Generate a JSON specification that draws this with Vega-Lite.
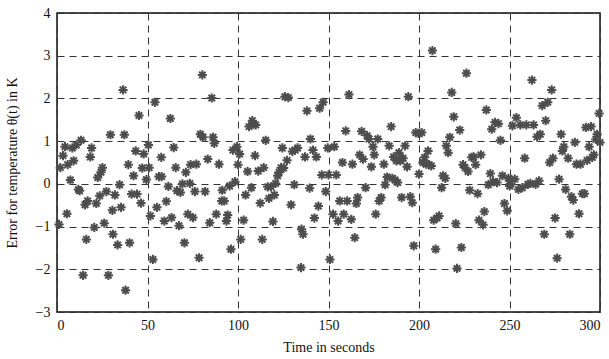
{
  "$schema": "https://vega.github.io/schema/vega-lite/v6.json",
  "width": 543,
  "height": 299,
  "autosize": "none",
  "padding": {"left": 57, "top": 13, "right": 9, "bottom": 47},
  "background": "white",
  "config": {
    "font": "Liberation Serif",
    "view": {"stroke": "#111", "strokeWidth": 1.5},
    "axis": {
      "labelFont": "Liberation Serif",
      "titleFont": "Liberation Serif",
      "labelFontSize": 14,
      "titleFontSize": 14,
      "titleFontWeight": "normal",
      "labelColor": "#111",
      "titleColor": "#111",
      "domain": false,
      "ticks": false,
      "grid": true,
      "gridColor": "#333",
      "gridDash": [7, 5],
      "gridWidth": 1,
      "gridOpacity": 1
    }
  },
  "data": {
    "values": [
      {"x": 1.1, "y": -0.95}, {"x": 1.8, "y": 0.38}, {"x": 3.3, "y": 0.66}, {"x": 4.4, "y": 0.87}, {"x": 5.5, "y": -0.7},
      {"x": 5.9, "y": 0.45}, {"x": 7.4, "y": 0.09}, {"x": 8.5, "y": 0.84}, {"x": 9.2, "y": 0.54}, {"x": 10.7, "y": 0.91},
      {"x": 11.8, "y": -0.13}, {"x": 12.5, "y": -0.16}, {"x": 13.3, "y": 1.02}, {"x": 14.4, "y": -2.14}, {"x": 15.5, "y": -0.49},
      {"x": 16.2, "y": -1.3}, {"x": 16.9, "y": -0.4}, {"x": 18.4, "y": 0.63}, {"x": 19.1, "y": 0.84}, {"x": 20.6, "y": -1.02},
      {"x": 21.7, "y": -0.46}, {"x": 22.5, "y": 0.15}, {"x": 23.6, "y": -0.28}, {"x": 24.3, "y": 0.27}, {"x": 25.1, "y": 0.38},
      {"x": 26.1, "y": -0.92}, {"x": 27.3, "y": -0.18}, {"x": 28.4, "y": -2.14}, {"x": 29.5, "y": 1.15}, {"x": 30.6, "y": -0.62},
      {"x": 30.9, "y": -1.18}, {"x": 32.0, "y": -0.26}, {"x": 33.5, "y": -1.43}, {"x": 34.6, "y": -0.02}, {"x": 35.4, "y": -0.55},
      {"x": 36.5, "y": 2.2}, {"x": 37.2, "y": 1.15}, {"x": 37.9, "y": -2.49}, {"x": 39.4, "y": 0.45}, {"x": 40.1, "y": -1.38},
      {"x": 41.2, "y": -0.24}, {"x": 42.3, "y": 0.19}, {"x": 43.5, "y": 0.77}, {"x": 44.2, "y": -0.24}, {"x": 45.3, "y": 1.6},
      {"x": 46.4, "y": -0.45}, {"x": 47.1, "y": 0.37}, {"x": 47.9, "y": 0.7}, {"x": 49.4, "y": 0.1}, {"x": 50.5, "y": 0.91},
      {"x": 50.9, "y": 0.38}, {"x": 51.6, "y": -0.75}, {"x": 53.0, "y": -1.77}, {"x": 54.1, "y": 1.91}, {"x": 55.2, "y": -0.55},
      {"x": 56.3, "y": 0.17}, {"x": 57.8, "y": 0.17}, {"x": 57.6, "y": 0.62}, {"x": 59.3, "y": -0.87}, {"x": 60.4, "y": -0.41},
      {"x": 61.5, "y": -0.06}, {"x": 62.6, "y": 1.53}, {"x": 63.3, "y": -0.79}, {"x": 64.5, "y": 0.85}, {"x": 65.6, "y": 0.38},
      {"x": 66.3, "y": -0.16}, {"x": 67.4, "y": -0.98}, {"x": 68.2, "y": -0.2}, {"x": 69.3, "y": 0.0}, {"x": 70.4, "y": -1.38},
      {"x": 71.2, "y": 0.27}, {"x": 72.3, "y": -0.71}, {"x": 73.4, "y": 0.01}, {"x": 73.8, "y": 0.45}, {"x": 75.1, "y": -0.79},
      {"x": 76.2, "y": -0.18}, {"x": 77.0, "y": 0.46}, {"x": 78.5, "y": -1.73}, {"x": 79.2, "y": 1.16}, {"x": 80.3, "y": 2.55},
      {"x": 80.7, "y": 1.09}, {"x": 81.8, "y": -0.18}, {"x": 83.3, "y": 0.58}, {"x": 84.4, "y": -0.91}, {"x": 85.5, "y": 2.01},
      {"x": 86.2, "y": 1.09}, {"x": 86.9, "y": 0.95}, {"x": 88.0, "y": -0.71}, {"x": 89.5, "y": 0.46}, {"x": 91.0, "y": -0.4},
      {"x": 91.3, "y": -0.15}, {"x": 92.4, "y": -0.4}, {"x": 93.6, "y": -0.87}, {"x": 94.3, "y": -0.73}, {"x": 95.4, "y": -0.05},
      {"x": 96.1, "y": -1.53}, {"x": 97.2, "y": 0.79}, {"x": 98.3, "y": 0.05}, {"x": 99.4, "y": 0.87}, {"x": 100.0, "y": 0.45},
      {"x": 100.9, "y": 0.7}, {"x": 101.5, "y": -1.3}, {"x": 103.1, "y": -0.85}, {"x": 104.2, "y": -0.26}, {"x": 105.3, "y": 0.29},
      {"x": 106.1, "y": 1.34}, {"x": 107.4, "y": -0.09}, {"x": 107.9, "y": 1.48}, {"x": 108.6, "y": 1.4}, {"x": 109.8, "y": 1.38},
      {"x": 109.4, "y": 0.66}, {"x": 111.2, "y": 0.3}, {"x": 112.3, "y": -0.45}, {"x": 113.4, "y": -1.3}, {"x": 114.2, "y": 0.38},
      {"x": 115.3, "y": 1.02}, {"x": 116.4, "y": -0.07}, {"x": 117.1, "y": -0.34}, {"x": 118.2, "y": -0.07}, {"x": 119.3, "y": -0.88},
      {"x": 120.1, "y": -0.26}, {"x": 120.8, "y": 0.01}, {"x": 121.9, "y": 0.19}, {"x": 122.7, "y": 0.27}, {"x": 123.8, "y": 0.38},
      {"x": 124.5, "y": 0.84}, {"x": 125.2, "y": 0.37}, {"x": 125.9, "y": 2.04}, {"x": 127.1, "y": 0.55}, {"x": 127.8, "y": 2.02},
      {"x": 129.3, "y": -0.49}, {"x": 130.0, "y": 0.76}, {"x": 131.1, "y": -0.02}, {"x": 131.5, "y": 0.79}, {"x": 132.9, "y": 0.84},
      {"x": 134.8, "y": -1.96}, {"x": 135.1, "y": -1.06}, {"x": 135.9, "y": -1.18}, {"x": 137.0, "y": 0.63}, {"x": 138.1, "y": 1.71},
      {"x": 139.6, "y": -0.1}, {"x": 140.0, "y": 1.05}, {"x": 141.4, "y": 0.79}, {"x": 142.2, "y": -0.8}, {"x": 143.3, "y": 0.63},
      {"x": 144.4, "y": -0.52}, {"x": 145.1, "y": 1.77}, {"x": 146.3, "y": 0.21}, {"x": 147.0, "y": 1.91}, {"x": 148.5, "y": -0.18},
      {"x": 149.6, "y": 0.84}, {"x": 150.8, "y": -1.77}, {"x": 150.0, "y": 0.21}, {"x": 153.2, "y": 0.87}, {"x": 154.3, "y": 0.21},
      {"x": 152.5, "y": -0.71}, {"x": 155.3, "y": -0.87}, {"x": 156.2, "y": -0.4}, {"x": 157.7, "y": 0.5}, {"x": 158.4, "y": -0.71},
      {"x": 159.5, "y": 1.24}, {"x": 160.3, "y": -0.4}, {"x": 161.3, "y": 2.09}, {"x": 162.6, "y": -0.83}, {"x": 163.2, "y": 0.46},
      {"x": 164.5, "y": -1.26}, {"x": 165.4, "y": -0.46}, {"x": 166.1, "y": -0.32}, {"x": 167.2, "y": 0.68}, {"x": 168.3, "y": 1.23},
      {"x": 169.1, "y": 0.58}, {"x": 170.5, "y": -0.09}, {"x": 171.3, "y": 1.13}, {"x": 172.4, "y": 1.05}, {"x": 173.7, "y": 0.4},
      {"x": 174.6, "y": 0.87}, {"x": 175.3, "y": 0.68}, {"x": 176.1, "y": -0.71}, {"x": 177.2, "y": 1.05}, {"x": 178.0, "y": -0.4},
      {"x": 179.1, "y": -0.32}, {"x": 180.6, "y": 0.46}, {"x": 181.3, "y": -0.02}, {"x": 182.4, "y": 0.16}, {"x": 183.5, "y": 0.89},
      {"x": 184.6, "y": 1.34}, {"x": 185.3, "y": 0.13}, {"x": 186.0, "y": 0.63}, {"x": 186.8, "y": 0.09}, {"x": 187.5, "y": 0.54},
      {"x": 188.2, "y": 0.03}, {"x": 188.9, "y": 0.73}, {"x": 189.7, "y": 0.54}, {"x": 190.4, "y": -0.32}, {"x": 191.2, "y": 0.6},
      {"x": 192.3, "y": 0.89}, {"x": 193.4, "y": 0.4}, {"x": 194.1, "y": 2.04}, {"x": 195.2, "y": -0.3}, {"x": 196.3, "y": -0.44},
      {"x": 197.1, "y": -1.45}, {"x": 198.2, "y": 1.2}, {"x": 199.7, "y": 1.18}, {"x": 200.0, "y": 0.23}, {"x": 201.5, "y": 1.2},
      {"x": 202.2, "y": 0.5}, {"x": 203.1, "y": 0.62}, {"x": 204.0, "y": 0.46}, {"x": 205.0, "y": 0.77}, {"x": 205.5, "y": 0.45},
      {"x": 206.8, "y": 0.42}, {"x": 207.4, "y": 3.12}, {"x": 208.1, "y": -0.85}, {"x": 209.2, "y": -1.53}, {"x": 210.0, "y": -0.8},
      {"x": 211.1, "y": -0.75}, {"x": 212.5, "y": -0.09}, {"x": 213.3, "y": 0.19}, {"x": 214.5, "y": 0.13}, {"x": 215.1, "y": 0.89},
      {"x": 216.1, "y": 0.73}, {"x": 217.0, "y": 1.09}, {"x": 218.1, "y": 2.14}, {"x": 219.2, "y": 1.57}, {"x": 220.3, "y": -0.93},
      {"x": 221.0, "y": -1.98}, {"x": 222.5, "y": 1.26}, {"x": 223.4, "y": -1.49}, {"x": 224.3, "y": 0.45}, {"x": 225.4, "y": 0.38},
      {"x": 226.2, "y": 2.59}, {"x": 227.1, "y": 0.29}, {"x": 228.0, "y": -0.15}, {"x": 229.1, "y": 0.62}, {"x": 230.2, "y": 0.63},
      {"x": 231.3, "y": 0.45}, {"x": 232.4, "y": -0.23}, {"x": 233.1, "y": -0.85}, {"x": 234.2, "y": 0.68}, {"x": 235.4, "y": -0.96},
      {"x": 236.1, "y": -0.65}, {"x": 237.2, "y": 1.73}, {"x": 238.3, "y": -0.02}, {"x": 239.4, "y": 0.24}, {"x": 240.2, "y": 1.28},
      {"x": 240.9, "y": 0.05}, {"x": 242.0, "y": 1.44}, {"x": 243.1, "y": 0.03}, {"x": 243.9, "y": 1.41}, {"x": 245.0, "y": 1.02},
      {"x": 246.1, "y": 0.19}, {"x": 247.2, "y": -0.46}, {"x": 248.7, "y": -0.63}, {"x": 249.4, "y": 0.13}, {"x": 250.1, "y": -0.05},
      {"x": 250.5, "y": -0.01}, {"x": 251.6, "y": 1.36}, {"x": 252.9, "y": 0.11}, {"x": 253.8, "y": 1.55}, {"x": 254.9, "y": -0.13},
      {"x": 256.0, "y": 1.38}, {"x": 257.1, "y": -0.09}, {"x": 258.4, "y": 0.6}, {"x": 259.3, "y": 1.38}, {"x": 260.2, "y": -0.01},
      {"x": 261.5, "y": 0.01}, {"x": 262.4, "y": 2.43}, {"x": 263.3, "y": 1.38}, {"x": 264.4, "y": -0.01}, {"x": 265.2, "y": 1.1},
      {"x": 266.3, "y": 0.07}, {"x": 267.0, "y": 1.16}, {"x": 268.1, "y": 1.83}, {"x": 269.2, "y": -1.18}, {"x": 270.0, "y": 1.48},
      {"x": 271.1, "y": 1.91}, {"x": 272.2, "y": 0.5}, {"x": 273.3, "y": 2.2}, {"x": 274.0, "y": 0.6}, {"x": 275.2, "y": -0.8},
      {"x": 276.3, "y": -1.74}, {"x": 277.4, "y": 0.11}, {"x": 278.5, "y": 1.16}, {"x": 279.2, "y": 0.77}, {"x": 280.0, "y": 0.87},
      {"x": 281.0, "y": -0.13}, {"x": 282.4, "y": 0.6}, {"x": 283.3, "y": -1.18}, {"x": 284.2, "y": -0.3}, {"x": 285.2, "y": -0.38},
      {"x": 286.1, "y": 0.97}, {"x": 287.0, "y": 0.46}, {"x": 288.4, "y": -0.7}, {"x": 289.2, "y": 0.46}, {"x": 290.3, "y": -0.23},
      {"x": 291.4, "y": -0.23}, {"x": 292.2, "y": 1.32}, {"x": 292.9, "y": 0.55}, {"x": 294.0, "y": 0.87}, {"x": 295.1, "y": 1.34},
      {"x": 295.8, "y": 0.62}, {"x": 296.6, "y": 0.68}, {"x": 297.7, "y": 1.04}, {"x": 298.4, "y": 1.16}, {"x": 299.5, "y": 1.65},
      {"x": 300.0, "y": 0.97}
    ]
  },
  "mark": {
    "type": "point",
    "shape": "M0,-1L0,1M-1,0L1,0M-0.7,-0.7L0.7,0.7M-0.7,0.7L0.7,-0.7",
    "filled": false,
    "stroke": "#4d4d4d",
    "strokeWidth": 2,
    "size": 85,
    "opacity": 1,
    "clip": false
  },
  "encoding": {
    "x": {
      "field": "x",
      "type": "quantitative",
      "scale": {"domain": [0, 300], "nice": false, "zero": false},
      "axis": {"values": [0, 50, 100, 150, 200, 250, 300], "title": "Time in seconds", "labelPadding": 6, "titlePadding": 8}
    },
    "y": {
      "field": "y",
      "type": "quantitative",
      "scale": {"domain": [-3, 4], "nice": false, "zero": false},
      "axis": {"values": [-3, -2, -1, 0, 1, 2, 3, 4], "title": "Error for temperature θ(t) in K", "labelPadding": 7, "titlePadding": 16}
    }
  }
}
